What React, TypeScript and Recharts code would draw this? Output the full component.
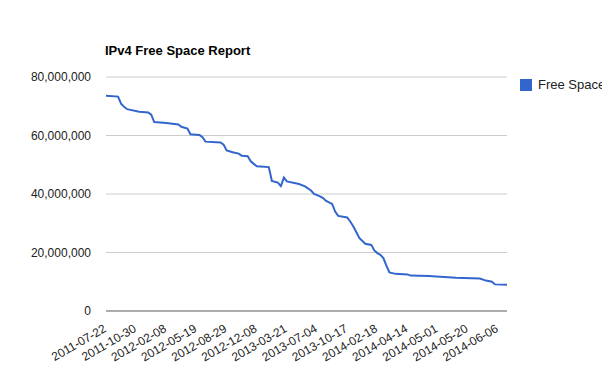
import React from "react";
import { CartesianGrid, Line, LineChart, XAxis, YAxis } from "recharts";

// one row per report; only the rows where the line bends are listed
const rows = [
  0, 4, 5, 6, 7, 11, 14, 15, 16, 20, 24, 25, 27, 28, 31, 32, 33, 38, 39, 40, 42, 44, 45, 47, 48, 49,
  50, 54, 55, 57, 58, 59, 60, 64, 66, 68, 69, 71, 72, 73, 75, 76, 77, 80, 81, 82, 83, 84, 86, 88, 89,
  90, 91, 92, 93, 94, 96, 100, 101, 107, 116, 124, 126, 128, 129, 133,
];

const freeSpace = [
  73.6, 73.3, 70.9, 69.8, 69.0, 68.1, 67.9, 67.1, 64.6, 64.3, 63.8, 63.0, 62.4, 60.4, 60.2, 59.4,
  57.9, 57.6, 56.9, 54.9, 54.3, 53.8, 53.1, 52.9, 51.2, 50.3, 49.5, 49.2, 44.5, 43.9, 42.7, 45.6,
  44.3, 43.4, 42.6, 41.2, 40.0, 39.2, 38.6, 37.6, 36.6, 34.0, 32.5, 32.0, 30.6, 29.0, 27.0, 25.0,
  23.0, 22.6, 20.7, 19.8, 19.2, 18.1, 15.5, 13.2, 12.7, 12.5, 12.1, 12.0, 11.4, 11.1, 10.4, 10.0,
  9.1, 9.0,
].map((m) => Math.round(m * 1000000));

// a date label every 10 rows
const dateLabels = [
  "2011-07-22", "2011-10-30", "2012-02-08", "2012-05-19", "2012-08-29", "2012-12-08", "2013-03-21",
  "2013-07-04", "2013-10-17", "2014-02-18", "2014-04-14", "2014-05-01", "2014-05-20", "2014-06-06",
];

const yTicks = [0, 20000000, 40000000, 60000000, 80000000];

const data = rows.map((row, i) => ({ row, free: freeSpace[i] }));
const xTicks = dateLabels.map((_, i) => i * 10);

const FONT = '"Liberation Sans", Arial, sans-serif';

const fmt = (v: number) => String(v).replace(/\B(?=(\d{3})+(?!\d))/g, ",");

function DateTick({ x, y, payload }: any) {
  const label = dateLabels[payload.value / 10] ?? "";
  return (
    <g transform={`translate(${x + 1},${y + 20})`}>
      <text textAnchor="end" transform="rotate(-30)" fontSize={12} fill="#222" fontFamily={FONT}>
        {label}
      </text>
    </g>
  );
}

export default function App() {
  return (
    <div style={{ position: "absolute", left: 0, top: 0, width: 602, height: 384, overflow: "hidden", background: "#fff" }}>
      <svg width={602} height={70} style={{ position: "absolute", left: 0, top: 0 }}>
        <text x={105} y={55} fontFamily={FONT} fontSize={13} fontWeight="bold" fill="#000">
          IPv4 Free Space Report
        </text>
      </svg>
      <div
        style={{
          position: "absolute",
          left: 520,
          top: 77,
          display: "flex",
          alignItems: "center",
          fontFamily: FONT,
          fontSize: 13,
          color: "#222",
          whiteSpace: "nowrap",
        }}
      >
        <span style={{ display: "inline-block", width: 12, height: 12, background: "#3366cc", marginRight: 6 }} />
        Free Space
      </div>
      <LineChart width={602} height={384} data={data} margin={{ top: 77, right: 95, bottom: 33, left: 0 }}>
        <CartesianGrid vertical={false} stroke="#ccc" />
        <XAxis
          dataKey="row"
          type="number"
          domain={[0, 133]}
          ticks={xTicks}
          interval={0}
          height={40}
          tickLine={false}
          tickSize={0}
          tickMargin={0}
          axisLine={{ stroke: "#999", strokeWidth: 1.5 }}
          tick={<DateTick />}
        />
        <YAxis
          width={106}
          domain={[0, 80000000]}
          ticks={yTicks}
          tickFormatter={fmt}
          axisLine={false}
          tickLine={false}
          tickSize={0}
          tickMargin={15}
          tick={{ fontSize: 12, fill: "#222", fontFamily: FONT }}
        />
        <Line
          type="linear"
          dataKey="free"
          name="Free Space"
          stroke="#3366cc"
          strokeWidth={2}
          dot={false}
          isAnimationActive={false}
        />
      </LineChart>
    </div>
  );
}
